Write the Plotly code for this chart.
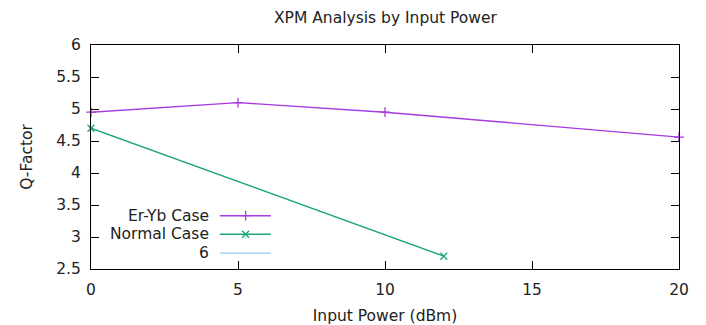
import plotly.graph_objects as go

# Q-factor versus launch power for the two amplifier configurations
power_eryb = [0, 5, 10, 20]
q_eryb = [4.95, 5.1, 4.95, 4.56]

power_normal = [0, 12]
q_normal = [4.7, 2.7]

series_names = ["Er-Yb Case", "Normal Case", "6"]
series_colors = ["#a53be0", "#1da57c", "#93cdee"]
series_symbols = ["cross-thin", "x-thin", None]

x_ticks = [0, 5, 10, 15, 20]
y_ticks = [2.5, 3, 3.5, 4, 4.5, 5, 5.5, 6]

FONT = "DejaVu Sans"
FS = 15.5
TXT = "#222222"
MSIZE = 7

fig = go.Figure()

fig.add_trace(go.Scatter(
    x=power_eryb, y=q_eryb, mode="lines+markers", name=series_names[0],
    line=dict(color=series_colors[0], width=1.4),
    marker=dict(symbol=series_symbols[0], size=MSIZE,
                line=dict(color=series_colors[0], width=1.3)),
    cliponaxis=False, showlegend=False,
))
fig.add_trace(go.Scatter(
    x=power_normal, y=q_normal, mode="lines+markers", name=series_names[1],
    line=dict(color=series_colors[1], width=1.4),
    marker=dict(symbol=series_symbols[1], size=MSIZE,
                line=dict(color=series_colors[1], width=1.3)),
    cliponaxis=False, showlegend=False,
))

# gnuplot-style key: label on the left, sample on the right
key_rows = [0.238, 0.155, 0.071]
key_x0, key_x1, key_mid, key_text = 0.219, 0.306, 0.263, 0.204
for name, color, sym, ky in zip(series_names, series_colors, series_symbols, key_rows):
    fig.add_shape(type="line", xref="paper", yref="paper",
                  x0=key_x0, x1=key_x1, y0=ky, y1=ky,
                  line=dict(color=color, width=1.4))
    fig.add_annotation(xref="paper", yref="paper", x=key_text, y=ky,
                       text=name, showarrow=False, xanchor="right", yanchor="middle",
                       font=dict(family=FONT, size=FS, color=TXT))
    if sym:
        fig.add_trace(go.Scatter(
            x=[key_mid], y=[ky], mode="markers", xaxis="x2", yaxis="y2",
            marker=dict(symbol=sym, size=MSIZE, line=dict(color=color, width=1.3)),
            showlegend=False, hoverinfo="skip", cliponaxis=False,
        ))

axis_common = dict(
    showline=True, linecolor="#000000", linewidth=1, mirror="ticks",
    ticks="inside", ticklen=8, tickwidth=1, tickcolor="#000000",
    showgrid=False, zeroline=False, automargin=False,
    tickfont=dict(family=FONT, size=FS, color=TXT),
)

fig.update_layout(
    width=706, height=325,
    margin=dict(l=91, r=27, t=45, b=56),
    paper_bgcolor="white", plot_bgcolor="white",
    title=dict(text="XPM Analysis by Input Power", x=0.546, xanchor="center",
               y=0.946, yanchor="middle",
               font=dict(family=FONT, size=FS, color=TXT)),
    xaxis=dict(range=[0, 20], tickvals=x_ticks, ticklabelstandoff=6,
               title=dict(text="Input Power (dBm)", standoff=15,
                          font=dict(family=FONT, size=FS, color=TXT)),
               **axis_common),
    yaxis=dict(range=[2.5, 6], tickvals=y_ticks, ticklabelstandoff=6,
               title=dict(text="Q-Factor", standoff=19,
                          font=dict(family=FONT, size=FS, color=TXT)),
               **axis_common),
    xaxis2=dict(range=[0, 1], overlaying="x", visible=False, domain=[0, 1]),
    yaxis2=dict(range=[0, 1], overlaying="y", visible=False, domain=[0, 1]),
    showlegend=False,
)

fig.write_html("out.html")
